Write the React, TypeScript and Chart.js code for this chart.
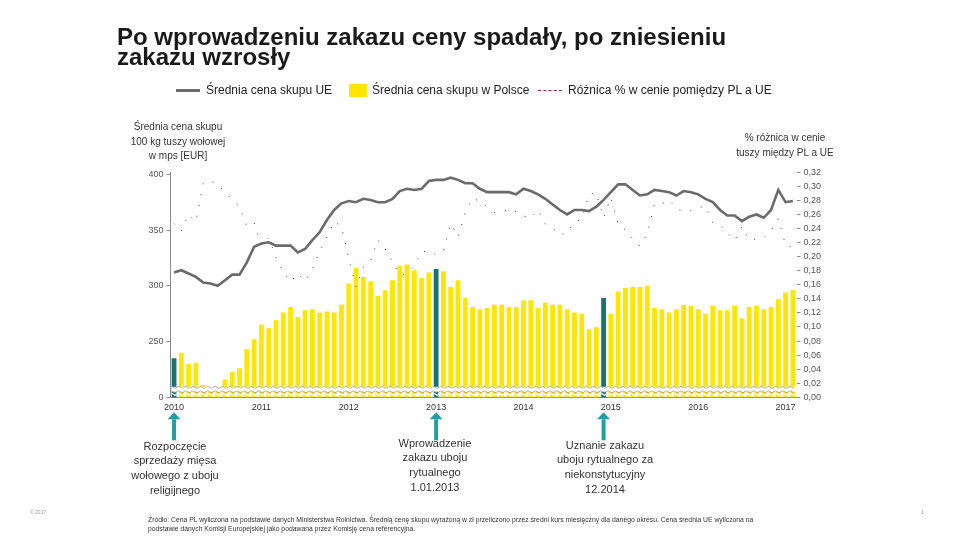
import React, { useEffect, useRef } from "react";
import { Chart, registerables } from "chart.js";

Chart.register(...registerables);

// ---------- DATA ----------
const yearLabels = ["2010", "2011", "2012", "2013", "2014", "2015", "2016", "2017"];

// Średnia cena skupu w Polsce (EUR / 100 kg), monthly Jan 2010 – Feb 2017
const plPrice = [
  235, 240, 230, 231, 211, 209, 207, 216, 223, 226,
  243, 252, 265, 262, 269, 276, 281, 272, 278, 279,
  276, 277, 276, 283, 302, 316, 308, 304, 291, 296,
  305, 318, 319, 314, 307, 312, 315, 313, 299, 305,
  289, 281, 279, 280, 283, 283, 281, 281, 287, 287,
  280, 285, 283, 283, 279, 276, 275, 261, 263, 289,
  275, 295, 298, 299, 299, 300, 280, 279, 276, 279,
  283, 282, 279, 275, 282, 278, 278, 282, 271, 281,
  282, 279, 281, 288, 294, 296,
];

// Średnia cena skupu UE (EUR / 100 kg)
const euPrice = [
  312, 314, 311, 308, 303, 302, 300, 305, 310, 310,
  321, 335, 338, 339, 336, 336, 336, 330, 333, 341,
  348, 359, 368, 374, 376, 375, 378, 377, 375, 375,
  378, 385, 387, 386, 387, 394, 395, 395, 397, 395,
  392, 392, 387, 384, 384, 384, 384, 382, 387, 385,
  382, 378, 373, 368, 364, 368, 368, 367, 371, 377,
  384, 391, 391, 386, 381, 382, 386, 385, 384, 381,
  385, 384, 382, 378, 375, 368, 363, 363, 358, 362,
  364, 361, 368, 386, 375, 376,
];

// Różnica % w cenie pomiędzy PL a UE (right axis)
const priceGap = [
  0.247, 0.236, 0.260, 0.250, 0.304, 0.308, 0.302, 0.292, 0.281, 0.271,
  0.243, 0.248, 0.216, 0.227, 0.199, 0.179, 0.164, 0.176, 0.165, 0.182,
  0.207, 0.228, 0.250, 0.243, 0.197, 0.157, 0.185, 0.194, 0.224, 0.211,
  0.193, 0.174, 0.176, 0.187, 0.207, 0.208, 0.203, 0.208, 0.247, 0.228,
  0.263, 0.283, 0.279, 0.271, 0.263, 0.263, 0.268, 0.264, 0.258, 0.255,
  0.267, 0.246, 0.241, 0.231, 0.234, 0.250, 0.253, 0.289, 0.291, 0.255,
  0.284, 0.246, 0.238, 0.225, 0.215, 0.232, 0.275, 0.275, 0.281, 0.268,
  0.265, 0.266, 0.270, 0.272, 0.248, 0.245, 0.234, 0.223, 0.243, 0.224,
  0.225, 0.227, 0.236, 0.254, 0.216, 0.213,
];

// months highlighted (teal bars + arrows): 01.2010, 01.2013, 12.2014
const highlightIdx = [0, 36, 59];

const leftTicks = [200, 250, 300, 350, 400];
const leftTickText = ["0", "250", "300", "350", "400"];

const FONT = "'Liberation Sans', Arial, sans-serif";
const YELLOW = "#FFE600";
const TEAL_BAR = "#17736f";
const TEAL_ARROW = "#1f9ea5";

const categories: string[] = [];
yearLabels.forEach((y) => {
  for (let m = 1; m <= 12; m++) categories.push(`${y}-${m < 10 ? "0" + m : m}`);
});
const labels = categories.slice(0, plPrice.length);

const extrasPlugin = {
  id: "extras",
  afterDatasetsDraw(chart: any) {
    const { ctx, chartArea: a, scales } = chart;
    const xs = scales.x;
    const step = xs.getPixelForValue(1) - xs.getPixelForValue(0);
    const y0 = a.bottom;
    ctx.save();
    ctx.fillStyle = "#ffffff";
    ctx.fillRect(a.left + 1, y0 - 10.5, a.right - a.left - 1, 5);
    const wave = (yy: number, color: string, w: number) => {
      ctx.beginPath();
      ctx.strokeStyle = color;
      ctx.lineWidth = w;
      let k = 0;
      for (let x = a.left + 1; x <= a.right; x += step / 2) {
        const yv = yy + (k % 2 === 0 ? -1 : 1);
        if (k === 0) ctx.moveTo(x, yv);
        else ctx.lineTo(x, yv);
        k++;
      }
      ctx.stroke();
    };
    wave(y0 - 10, "#9a9a9a", 0.8);
    wave(y0 - 5.5, "#9a9a9a", 0.8);
    wave(y0 - 3, "#ffffff", 1.2);
    ctx.restore();
  },
  afterDraw(chart: any) {
    const { ctx, chartArea: a, scales } = chart;
    ctx.save();
    ctx.fillStyle = TEAL_ARROW;
    highlightIdx.forEach((i) => {
      const x = scales.x.getPixelForValue(i);
      const top = a.bottom + 15;
      ctx.beginPath();
      ctx.moveTo(x, top);
      ctx.lineTo(x + 6.5, top + 7);
      ctx.lineTo(x - 6.5, top + 7);
      ctx.closePath();
      ctx.fill();
      ctx.fillRect(x - 2, top + 7, 4, 21);
    });
    ctx.restore();
  },
};

export default function App() {
  const ref = useRef<HTMLCanvasElement | null>(null);

  useEffect(() => {
    if (!ref.current) return;
    const chart = new Chart(ref.current, {
      data: {
        labels,
        datasets: [
          {
            type: "line",
            label: "Różnica % w cenie pomiędzy PL a UE",
            data: priceGap,
            yAxisID: "y1",
            borderColor: "#3b3b3b",
            borderWidth: 1,
            borderDash: [1, 10],
            pointRadius: 0,
            order: 0,
          },
          {
            type: "line",
            label: "Średnia cena skupu UE",
            data: euPrice,
            yAxisID: "y",
            borderColor: "#6b6b6b",
            borderWidth: 2.6,
            pointRadius: 0,
            tension: 0,
            order: 1,
          },
          {
            type: "bar",
            label: "Średnia cena skupu w Polsce",
            data: plPrice,
            yAxisID: "y",
            backgroundColor: plPrice.map((_, i) => (highlightIdx.includes(i) ? TEAL_BAR : YELLOW)),
            barPercentage: 0.66,
            categoryPercentage: 1,
            order: 2,
          },
        ],
      } as any,
      options: {
        responsive: false,
        animation: false,
        layout: { padding: { left: 0, right: 0, top: 172.3, bottom: 0 } },
        plugins: { legend: { display: false }, tooltip: { enabled: false } },
        scales: {
          x: {
            type: "category",
            offset: true,
            grid: { display: false, drawTicks: false },
            border: { display: true, color: "#8a8a8a" },
            ticks: {
              autoSkip: false,
              maxRotation: 0,
              padding: 5,
              color: "#333",
              font: { family: FONT, size: 9 },
              callback: (_v: any, i: number) => (i % 12 === 0 ? yearLabels[i / 12] : ""),
            },
            afterFit: (s: any) => {
              s.height = 540 - 397.3;
            },
          },
          y: {
            type: "linear",
            position: "left",
            min: 200,
            max: 401.8,
            afterBuildTicks: (s: any) => {
              s.ticks = leftTicks.map((v) => ({ value: v }));
            },
            grid: { drawOnChartArea: false, drawTicks: true, tickLength: 4, color: "#8a8a8a" },
            border: { display: true, color: "#8a8a8a" },
            ticks: {
              padding: 3,
              color: "#555",
              font: { family: FONT, size: 9 },
              callback: (v: any) => leftTickText[leftTicks.indexOf(v)] ?? "",
            },
            afterFit: (s: any) => {
              s.width = 170.4;
            },
          },
          y1: {
            type: "linear",
            position: "right",
            min: 0,
            max: 0.32,
            grid: { drawOnChartArea: false, drawTicks: true, tickLength: 4, color: "#8a8a8a" },
            border: { display: false },
            ticks: {
              stepSize: 0.02,
              autoSkip: false,
              padding: 3,
              color: "#555",
              font: { family: FONT, size: 9 },
              callback: (v: any) => Number(v).toFixed(2).replace(".", ","),
            },
            afterFit: (s: any) => {
              s.width = 960 - 796.5;
            },
          },
        },
      },
      plugins: [extrasPlugin],
    } as any);
    return () => chart.destroy();
  }, []);

  const abs = (o: React.CSSProperties): React.CSSProperties => ({ position: "absolute", ...o });

  return (
    <div
      style={{
        position: "absolute",
        left: 0,
        top: 0,
        width: 960,
        height: 540,
        overflow: "hidden",
        background: "#fff",
        fontFamily: FONT,
        color: "#222",
      }}
    >
      <canvas ref={ref} width={960} height={540} style={abs({ left: 0, top: 0, width: 960, height: 540 })} />

      {/* Title */}
      <div style={abs({ left: 117, top: 27, fontSize: 24, fontWeight: 700, lineHeight: "20px", color: "#1a1a1a", whiteSpace: "nowrap" })}>
        Po wprowadzeniu zakazu ceny spadały, po zniesieniu
        <br />
        zakazu wzrosły
      </div>

      {/* Legend */}
      <div style={abs({ left: 176, top: 88.5, width: 24, height: 3, background: "#6b6b6b" })} />
      <div style={abs({ left: 206, top: 83, fontSize: 12, lineHeight: "14px", whiteSpace: "nowrap" })}>Średnia cena skupu UE</div>
      <div style={abs({ left: 349, top: 84, width: 18, height: 13, background: YELLOW })} />
      <div style={abs({ left: 372, top: 83, fontSize: 12, lineHeight: "14px", whiteSpace: "nowrap" })}>Średnia cena skupu w Polsce</div>
      <div style={abs({ left: 538, top: 89.5, width: 24, height: 0, borderTop: "1.3px dashed #a3223c" })} />
      <div style={abs({ left: 568, top: 83, fontSize: 12, lineHeight: "14px", whiteSpace: "nowrap" })}>Różnica % w cenie pomiędzy PL a UE</div>

      {/* Axis titles */}
      <div style={abs({ left: 98, top: 120, width: 160, textAlign: "center", fontSize: 10, lineHeight: "14.5px", color: "#333" })}>
        Średnia cena skupu
        <br />
        100 kg tuszy wołowej
        <br />w mps [EUR]
      </div>
      <div style={abs({ left: 705, top: 131, width: 160, textAlign: "center", fontSize: 10, lineHeight: "14.5px", color: "#333" })}>
        % różnica w cenie
        <br />
        tuszy między PL a UE
      </div>

      {/* Annotations */}
      <div style={abs({ left: 95, top: 438.5, width: 160, textAlign: "center", fontSize: 11, lineHeight: "14.7px", color: "#333" })}>
        Rozpoczęcie
        <br />
        sprzedaży mięsa
        <br />
        wołowego z uboju
        <br />
        religijnego
      </div>
      <div style={abs({ left: 355, top: 435.5, width: 160, textAlign: "center", fontSize: 11, lineHeight: "14.7px", color: "#333" })}>
        Wprowadzenie
        <br />
        zakazu uboju
        <br />
        rytualnego
        <br />
        1.01.2013
      </div>
      <div style={abs({ left: 525, top: 437.5, width: 160, textAlign: "center", fontSize: 11, lineHeight: "14.7px", color: "#333" })}>
        Uznanie zakazu
        <br />
        uboju rytualnego za
        <br />
        niekonstytucyjny
        <br />
        12.2014
      </div>

      {/* Footnote */}
      <div style={abs({ left: 148, top: 516, fontSize: 6.8, lineHeight: "8.5px", color: "#333", whiteSpace: "nowrap" })}>
        Źródło: Cena PL wyliczona na podstawie danych Ministerstwa Rolnictwa. Średnią cenę skupu wyrażoną w zł przeliczono przez średni kurs miesięczny dla danego okresu. Cena średnia UE wyliczona na
        <br />
        podstawie danych Komisji Europejskiej jako podawana przez Komisję cena referencyjna.
      </div>
      <div style={abs({ left: 30, top: 509, fontSize: 5, color: "#999", whiteSpace: "nowrap" })}>© 2017</div>
      <div style={abs({ left: 921, top: 509, fontSize: 5, color: "#999" })}>1</div>
    </div>
  );
}
